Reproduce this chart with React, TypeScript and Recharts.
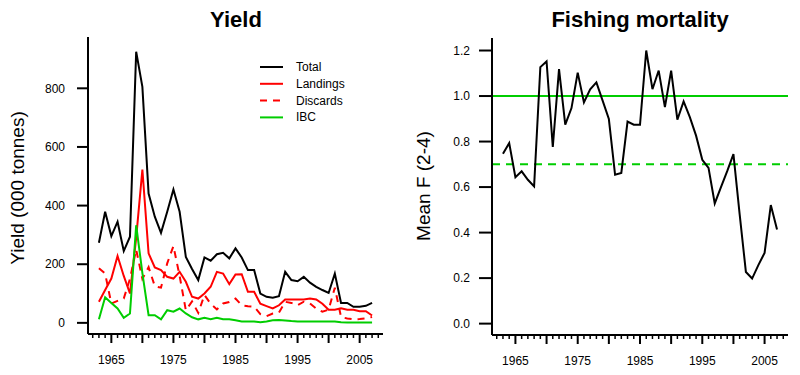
import { LineChart, Line, XAxis, YAxis, ReferenceLine, Legend } from "recharts";

const FONT = "'Liberation Sans', Arial, sans-serif";
const GREEN = "#00CD00";
const RED = "#FF0000";

const years = [
  1963, 1964, 1965, 1966, 1967, 1968, 1969, 1970, 1971, 1972,
  1973, 1974, 1975, 1976, 1977, 1978, 1979, 1980, 1981, 1982,
  1983, 1984, 1985, 1986, 1987, 1988, 1989, 1990, 1991, 1992,
  1993, 1994, 1995, 1996, 1997, 1998, 1999, 2000, 2001, 2002,
  2003, 2004, 2005, 2006, 2007,
];

// yield, 000 tonnes
const total = [
  273, 379, 296, 345, 245, 294, 925, 805, 441, 362,
  307, 379, 455, 379, 225, 184, 146, 223, 212, 234,
  239, 220, 254, 223, 180, 180, 100, 89, 86, 91,
  174, 146, 142, 157, 137, 123, 112, 102, 168, 68,
  68, 55, 55, 58, 68,
];
const landings = [
  72, 112, 151, 228, 160, 100, 290, 523, 237, 189,
  180, 157, 151, 174, 140, 89, 83, 100, 123, 174,
  168, 132, 165, 166, 106, 106, 65, 57, 49, 60,
  80, 80, 80, 80, 83, 80, 65, 45, 45, 50,
  45, 45, 40, 40, 25,
];
const discards = [
  186, 168, 66, 75, 83, 150, 250, 150, 190, 125,
  120, 203, 262, 160, 43, 73, 34, 95, 65, 46,
  66, 71, 83, 60, 57, 55, 30, 23, 32, 35,
  72, 68, 60, 72, 66, 49, 38, 45, 120, 20,
  15, 12, 13, 15, 20,
];
const ibc = [
  12, 87, 68, 49, 17, 32, 333, 170, 26, 26,
  12, 43, 38, 49, 32, 19, 12, 17, 12, 17,
  12, 12, 9, 5, 5, 5, 2, 5, 9, 10,
  8, 6, 5, 5, 5, 5, 5, 5, 5, 2,
  1, 1, 1, 1, 1,
];

// mean F, ages 2-4
const meanF = [
  0.746, 0.793, 0.643, 0.669, 0.632, 0.603, 1.127, 1.152, 0.776, 1.118,
  0.874, 0.947, 1.103, 0.972, 1.03, 1.06, 0.98, 0.899, 0.654, 0.662,
  0.888, 0.874, 0.874, 1.2, 1.03, 1.112, 0.951, 1.112, 0.896, 0.976,
  0.907, 0.826, 0.72, 0.684, 0.528, 0.6, 0.67, 0.745, 0.48, 0.227,
  0.198, 0.257, 0.311, 0.521, 0.414,
];

const yearTicks = [
  1962, 1963, 1964, 1965, 1966, 1967, 1968, 1969, 1970, 1971, 1972,
  1973, 1974, 1975, 1976, 1977, 1978, 1979, 1980, 1981, 1982, 1983,
  1984, 1985, 1986, 1987, 1988, 1989, 1990, 1991, 1992, 1993, 1994,
  1995, 1996, 1997, 1998, 1999, 2000, 2001, 2002, 2003, 2004, 2005,
  2006, 2007, 2008,
];
const yieldTicks = [0, 200, 400, 600, 800];
const fTicks = [0, 0.2, 0.4, 0.6, 0.8, 1.0, 1.2];
const fRefLevels = [1.0, 0.7];

const yieldData = years.map((year, i) => ({
  year,
  total: total[i],
  landings: landings[i],
  discards: discards[i],
  ibc: ibc[i],
}));
const fData = years.map((year, i) => ({ year, f: meanF[i] }));

const legendItems = [
  { label: "Total", color: "#000000", dash: undefined },
  { label: "Landings", color: RED, dash: undefined },
  { label: "Discards", color: RED, dash: "7 6" },
  { label: "IBC", color: GREEN, dash: undefined },
];

const axisLine = { stroke: "#000", strokeWidth: 2 };

function YearTick(props: any) {
  const { x, y, payload } = props;
  const yr = payload.value;
  const major = yr % 5 === 0;
  return (
    <g>
      <line x1={x} x2={x} y1={y} y2={y + (major ? 9 : 4)} stroke="#000" strokeWidth={major ? 2 : 1.5} />
      {yr % 10 === 5 && (
        <text x={x} y={y + 30} textAnchor="middle" fontSize={12} fontFamily={FONT} fill="#000">
          {yr}
        </text>
      )}
    </g>
  );
}

function YieldLegend() {
  return (
    <svg width={110} height={70}>
      {legendItems.map((it, i) => (
        <g key={it.label}>
          <line x1={2} x2={25} y1={9 + i * 16.8} y2={9 + i * 16.8} stroke={it.color} strokeWidth={2} strokeDasharray={it.dash} />
          <text x={38} y={13 + i * 16.8} fontSize={12} fontFamily={FONT} fill="#000">
            {it.label}
          </text>
        </g>
      ))}
    </svg>
  );
}

export default function App() {
  return (
    <div style={{ position: "absolute", left: 0, top: 0, width: 800, height: 375, background: "#fff", fontFamily: FONT }}>
      <div style={{ position: "absolute", left: 0, top: 0 }}>
        <LineChart width={400} height={375} data={yieldData} margin={{ top: 37, right: 17, bottom: 0, left: 0 }}>
          <XAxis
            dataKey="year"
            type="number"
            domain={[1961.24, 2008.76]}
            allowDataOverflow
            ticks={yearTicks}
            interval={0}
            height={41}
            axisLine={axisLine}
            tickLine={false}
            tickSize={0}
            tickMargin={0}
            tick={<YearTick />}
          />
          <YAxis
            type="number"
            domain={[-38, 975]}
            allowDataOverflow
            ticks={yieldTicks}
            interval={0}
            width={88}
            axisLine={axisLine}
            tickLine={{ stroke: "#000", strokeWidth: 2 }}
            tickSize={11}
            tickMargin={12}
            tick={{ fill: "#000", fontSize: 12, fontFamily: FONT }}
          />
          <Legend
            layout="vertical"
            align="center"
            verticalAlign="middle"
            content={() => <YieldLegend />}
            wrapperStyle={{ position: "absolute", left: 258, top: 58, width: 110, height: 70 }}
          />
          <Line dataKey="total" stroke="#000" strokeWidth={2} dot={false} isAnimationActive={false} />
          <Line dataKey="landings" stroke={RED} strokeWidth={2} dot={false} isAnimationActive={false} />
          <Line dataKey="discards" stroke={RED} strokeWidth={2} strokeDasharray="7 6" dot={false} isAnimationActive={false} />
          <Line dataKey="ibc" stroke={GREEN} strokeWidth={2} dot={false} isAnimationActive={false} />
        </LineChart>
      </div>
      <div style={{ position: "absolute", left: 400, top: 0 }}>
        <LineChart width={400} height={375} data={fData} margin={{ top: 38, right: 12, bottom: 0, left: 0 }}>
          <XAxis
            dataKey="year"
            type="number"
            domain={[1961.24, 2008.76]}
            allowDataOverflow
            ticks={yearTicks}
            interval={0}
            height={40}
            axisLine={axisLine}
            tickLine={false}
            tickSize={0}
            tickMargin={0}
            tick={<YearTick />}
          />
          <YAxis
            type="number"
            domain={[-0.05, 1.255]}
            allowDataOverflow
            ticks={fTicks}
            interval={0}
            width={92}
            axisLine={axisLine}
            tickLine={{ stroke: "#000", strokeWidth: 2 }}
            tickSize={13}
            tickMargin={9}
            tickFormatter={(v: number) => v.toFixed(1)}
            tick={{ fill: "#000", fontSize: 12, fontFamily: FONT }}
          />
          <ReferenceLine y={fRefLevels[0]} stroke={GREEN} strokeWidth={2} />
          <ReferenceLine y={fRefLevels[1]} stroke={GREEN} strokeWidth={2} strokeDasharray="8 6" />
          <Line dataKey="f" stroke="#000" strokeWidth={2} dot={false} isAnimationActive={false} />
        </LineChart>
      </div>
      <svg width={800} height={375} style={{ position: "absolute", left: 0, top: 0, pointerEvents: "none" }}>
        <text x={236} y={27} textAnchor="middle" fontSize={22} fontWeight="bold" fontFamily={FONT} fill="#000">
          Yield
        </text>
        <text x={640} y={27} textAnchor="middle" fontSize={22} fontWeight="bold" fontFamily={FONT} fill="#000">
          Fishing mortality
        </text>
        <text
          x={17}
          y={188}
          textAnchor="middle"
          dominantBaseline="central"
          fontSize={19}
          fontFamily={FONT}
          fill="#000"
          transform="rotate(-90 17 188)"
        >
          Yield (000 tonnes)
        </text>
        <text
          x={423}
          y={186}
          textAnchor="middle"
          dominantBaseline="central"
          fontSize={19}
          fontFamily={FONT}
          fill="#000"
          transform="rotate(-90 423 186)"
        >
          Mean F (2-4)
        </text>
      </svg>
    </div>
  );
}
